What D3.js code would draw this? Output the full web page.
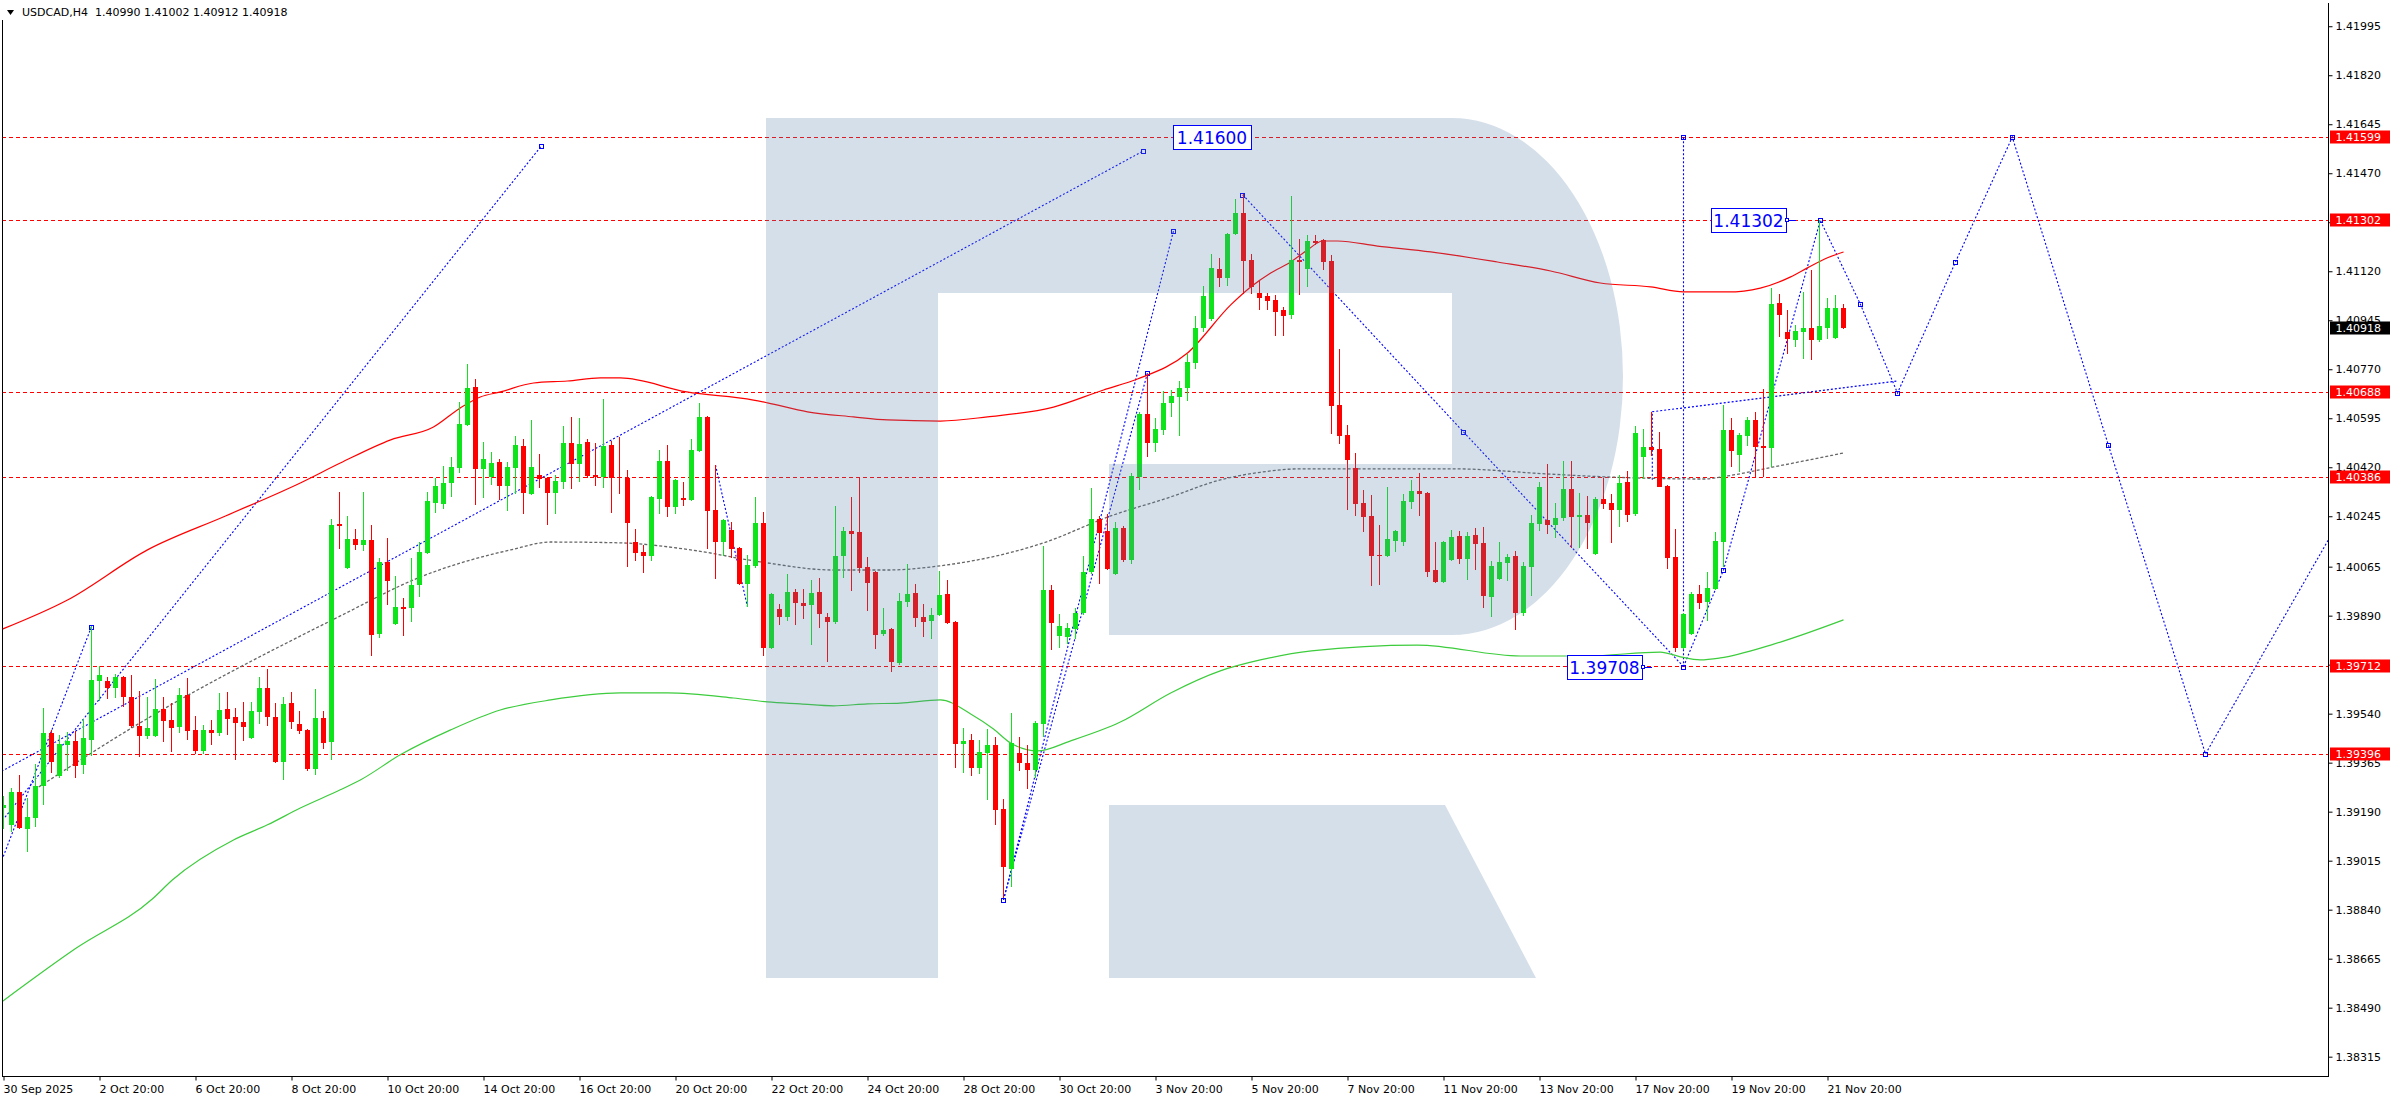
<!DOCTYPE html>
<html><head><meta charset="utf-8">
<script src="https://cdn.jsdelivr.net/npm/d3@7"></script>
<style>html,body{margin:0;padding:0;background:#fff;overflow:hidden}</style>
</head><body>
<svg id="c" width="2390" height="1100"></svg>
<script>
// ---------------- DATA ----------------
const symbolName = "USDCAD,H4";
const lastBarOHLC = ["1.40990", "1.41002", "1.40912", "1.40918"];
// H4 candles [open, high, low, close]
const candles = [
[1.39203,1.39246,1.39128,1.39214],[1.39143,1.39275,1.39118,1.39260],[1.39260,1.39321,1.39128,1.39132],[1.39128,1.39239,1.39046,1.39171],
[1.39168,1.39360,1.39136,1.39282],[1.39282,1.39560,1.39214,1.39471],[1.39471,1.39482,1.39328,1.39368],[1.39318,1.39464,1.39310,1.39432],
[1.39428,1.39475,1.39336,1.39443],[1.39443,1.39479,1.39310,1.39353],[1.39357,1.39521,1.39325,1.39453],[1.39446,1.39853,1.39389,1.39660],
[1.39657,1.39710,1.39585,1.39678],[1.39657,1.39671,1.39593,1.39632],[1.39632,1.39682,1.39596,1.39671],[1.39671,1.39675,1.39564,1.39600],
[1.39600,1.39678,1.39490,1.39496],[1.39496,1.39621,1.39386,1.39460],[1.39460,1.39600,1.39450,1.39489],[1.39460,1.39664,1.39455,1.39557],
[1.39557,1.39600,1.39439,1.39514],[1.39518,1.39578,1.39403,1.39489],[1.39493,1.39632,1.39471,1.39607],[1.39607,1.39668,1.39446,1.39478],
[1.39482,1.39532,1.39396,1.39407],[1.39407,1.39500,1.39396,1.39482],[1.39482,1.39518,1.39428,1.39471],[1.39471,1.39614,1.39460,1.39553],
[1.39557,1.39618,1.39464,1.39521],[1.39528,1.39560,1.39375,1.39507],[1.39510,1.39582,1.39443,1.39493],[1.39453,1.39582,1.39450,1.39550],
[1.39546,1.39671,1.39503,1.39632],[1.39632,1.39700,1.39496,1.39528],[1.39528,1.39578,1.39364,1.39368],[1.39368,1.39600,1.39303,1.39575],
[1.39578,1.39618,1.39485,1.39510],[1.39503,1.39550,1.39468,1.39478],[1.39482,1.39485,1.39336,1.39343],[1.39343,1.39628,1.39321,1.39525],
[1.39525,1.39550,1.39414,1.39436],[1.39439,1.40235,1.39375,1.40214],[1.40218,1.40332,1.40128,1.40210],[1.40060,1.40246,1.40057,1.40164],
[1.40164,1.40200,1.40125,1.40142],[1.40142,1.40332,1.40121,1.40160],[1.40160,1.40214,1.39746,1.39821],[1.39825,1.40096,1.39810,1.40082],
[1.40082,1.40168,1.39928,1.40014],[1.39860,1.40032,1.39857,1.39921],[1.39921,1.39953,1.39818,1.39914],[1.39918,1.40096,1.39868,1.40000],
[1.40000,1.40153,1.39957,1.40117],[1.40114,1.40332,1.40110,1.40299],[1.40292,1.40382,1.40257,1.40353],[1.40289,1.40425,1.40271,1.40364],
[1.40364,1.40457,1.40314,1.40421],[1.40418,1.40653,1.40400,1.40574],[1.40571,1.40789,1.40568,1.40703],[1.40707,1.40735,1.40285,1.40414],
[1.40414,1.40510,1.40310,1.40450],[1.40386,1.40475,1.40357,1.40435],[1.40439,1.40450,1.40303,1.40353],[1.40353,1.40439,1.40264,1.40421],
[1.40418,1.40532,1.40325,1.40500],[1.40496,1.40521,1.40253,1.40328],[1.40325,1.40589,1.40322,1.40421],[1.40393,1.40468,1.40346,1.40378],
[1.40382,1.40385,1.40214,1.40328],[1.40328,1.40393,1.40253,1.40371],[1.40367,1.40567,1.40342,1.40507],[1.40507,1.40600,1.40342,1.40432],
[1.40432,1.40596,1.40367,1.40503],[1.40510,1.40521,1.40382,1.40389],[1.40393,1.40507,1.40353,1.40386],[1.40386,1.40664,1.40346,1.40496],
[1.40500,1.40514,1.40257,1.40382],[1.40386,1.40528,1.40325,1.40380],[1.40382,1.40410,1.40064,1.40221],[1.40153,1.40200,1.40085,1.40114],
[1.40117,1.40142,1.40043,1.40103],[1.40103,1.40318,1.40085,1.40314],[1.40307,1.40482,1.40253,1.40443],[1.40443,1.40500,1.40243,1.40278],
[1.40278,1.40378,1.40253,1.40375],[1.40310,1.40367,1.40282,1.40303],[1.40303,1.40521,1.40300,1.40482],[1.40478,1.40650,1.40475,1.40600],
[1.40600,1.40603,1.40128,1.40264],[1.40268,1.40428,1.40021,1.40153],[1.40153,1.40235,1.40103,1.40232],[1.40196,1.40225,1.40096,1.40128],
[1.40132,1.40135,1.40000,1.40003],[1.40003,1.40107,1.39921,1.40071],[1.40068,1.40314,1.40060,1.40221],[1.40221,1.40260,1.39746,1.39775],
[1.39775,1.39970,1.39772,1.39968],[1.39914,1.39932,1.39857,1.39885],[1.39885,1.40039,1.39871,1.39975],[1.39975,1.39986,1.39857,1.39935],
[1.39935,1.39986,1.39878,1.39925],[1.39928,1.40018,1.39785,1.39971],[1.39975,1.40025,1.39846,1.39896],[1.39885,1.39900,1.39725,1.39868],
[1.39868,1.40282,1.39860,1.40103],[1.40103,1.40207,1.40025,1.40192],[1.40192,1.40314,1.39978,1.40182],[1.40189,1.40382,1.40043,1.40060],
[1.40064,1.40100,1.39907,1.40007],[1.40046,1.40050,1.39771,1.39821],[1.39825,1.39918,1.39818,1.39839],[1.39843,1.39846,1.39689,1.39725],
[1.39721,1.39971,1.39714,1.39943],[1.39939,1.40075,1.39921,1.39968],[1.39971,1.40003,1.39850,1.39882],[1.39885,1.39932,1.39814,1.39868],
[1.39871,1.39918,1.39807,1.39893],[1.39893,1.40050,1.39889,1.39964],[1.39968,1.40018,1.39860,1.39864],[1.39868,1.39871,1.39346,1.39432],
[1.39432,1.39489,1.39328,1.39443],[1.39446,1.39468,1.39318,1.39346],[1.39346,1.39446,1.39325,1.39403],[1.39400,1.39485,1.39232,1.39428],
[1.39428,1.39455,1.39141,1.39196],[1.39200,1.39236,1.38880,1.38993],[1.38986,1.39543,1.38921,1.39436],[1.39400,1.39455,1.39336,1.39364],
[1.39364,1.39428,1.39271,1.39339],[1.39339,1.39514,1.39310,1.39507],[1.39503,1.40139,1.39457,1.39980],[1.39980,1.39998,1.39768,1.39864],
[1.39818,1.39896,1.39775,1.39853],[1.39814,1.39864,1.39789,1.39846],[1.39843,1.39918,1.39807,1.39900],[1.39900,1.40103,1.39893,1.40046],
[1.40046,1.40346,1.40039,1.40235],[1.40235,1.40246,1.40003,1.40184],[1.40192,1.40253,1.40053,1.40057],[1.40039,1.40225,1.40036,1.40203],
[1.40203,1.40210,1.40080,1.40089],[1.40089,1.40398,1.40075,1.40389],[1.40386,1.40619,1.40339,1.40609],[1.40609,1.40746,1.40457,1.40505],
[1.40505,1.40596,1.40475,1.40557],[1.40553,1.40693,1.40535,1.40650],[1.40650,1.40696,1.40600,1.40675],[1.40671,1.40728,1.40532,1.40703],
[1.40703,1.40825,1.40657,1.40796],[1.40793,1.40960,1.40771,1.40919],[1.40916,1.41068,1.40903,1.41033],[1.40950,1.41182,1.40943,1.41130],
[1.41127,1.41168,1.41064,1.41096],[1.41096,1.41257,1.41068,1.41254],[1.41254,1.41378,1.41250,1.41328],[1.41328,1.41396,1.41039,1.41158],
[1.41161,1.41182,1.41039,1.41065],[1.41043,1.41085,1.40983,1.41026],[1.41032,1.41043,1.40983,1.41015],[1.41018,1.41036,1.40890,1.40976],
[1.40982,1.40993,1.40890,1.40961],[1.40965,1.41389,1.40951,1.41160],[1.41161,1.41235,1.41036,1.41154],[1.41129,1.41250,1.41065,1.41228],
[1.41228,1.41250,1.41214,1.41221],[1.41232,1.41235,1.41126,1.41154],[1.41158,1.41178,1.40540,1.40640],[1.40643,1.40843,1.40504,1.40533],
[1.40535,1.40571,1.40269,1.40447],[1.40419,1.40471,1.40247,1.40290],[1.40293,1.40340,1.40187,1.40244],[1.40247,1.40322,1.39997,1.40104],
[1.40108,1.40212,1.40000,1.40103],[1.40104,1.40351,1.40100,1.40162],[1.40158,1.40196,1.40119,1.40194],[1.40154,1.40326,1.40140,1.40301],
[1.40297,1.40376,1.40272,1.40336],[1.40336,1.40401,1.40247,1.40326],[1.40329,1.40333,1.40029,1.40047],[1.40054,1.40154,1.40007,1.40011],
[1.40011,1.40157,1.40005,1.40154],[1.40090,1.40197,1.40086,1.40172],[1.40176,1.40194,1.40076,1.40094],[1.40094,1.40187,1.40019,1.40176],
[1.40179,1.40204,1.40054,1.40147],[1.40151,1.40208,1.39919,1.39962],[1.39958,1.40086,1.39886,1.40069],[1.40022,1.40154,1.40019,1.40083],
[1.40079,1.40111,1.40015,1.40101],[1.40104,1.40122,1.39840,1.39901],[1.39901,1.40083,1.39890,1.40069],[1.40065,1.40251,1.39962,1.40222],
[1.40219,1.40369,1.40194,1.40351],[1.40233,1.40433,1.40183,1.40212],[1.40215,1.40293,1.40169,1.40240],[1.40240,1.40443,1.40229,1.40343],
[1.40343,1.40443,1.40133,1.40244],[1.40244,1.40328,1.40133,1.40250],[1.40250,1.40318,1.40129,1.40222],[1.40112,1.40314,1.40108,1.40307],
[1.40307,1.40382,1.40272,1.40290],[1.40293,1.40325,1.40151,1.40269],[1.40269,1.40393,1.40208,1.40364],[1.40367,1.40407,1.40226,1.40251],
[1.40254,1.40567,1.40247,1.40542],[1.40457,1.40557,1.40379,1.40493],[1.40493,1.40618,1.40461,1.40483],[1.40485,1.40546,1.40348,1.40351],
[1.40353,1.40357,1.40058,1.40097],[1.40100,1.40200,1.39762,1.39776],[1.39776,1.39900,1.39772,1.39896],[1.39826,1.39975,1.39822,1.39968],
[1.39968,1.40000,1.39915,1.39936],[1.39940,1.40046,1.39872,1.39989],[1.39986,1.40190,1.39983,1.40157],[1.40154,1.40643,1.40065,1.40553],
[1.40553,1.40596,1.40422,1.40479],[1.40465,1.40543,1.40404,1.40535],[1.40533,1.40600,1.40497,1.40589],[1.40589,1.40618,1.40386,1.40494],
[1.40496,1.40700,1.40386,1.40487],[1.40487,1.41059,1.40422,1.41003],[1.41006,1.41039,1.40885,1.40965],[1.40903,1.40982,1.40825,1.40879],
[1.40875,1.40929,1.40851,1.40907],[1.40903,1.41046,1.40807,1.40918],[1.40918,1.41125,1.40803,1.40875],[1.40875,1.41302,1.40869,1.40925],
[1.40918,1.41025,1.40878,1.40989],[1.40882,1.41036,1.40878,1.40989],[1.40990,1.41002,1.40912,1.40918]
];
const timeLabels = ["30 Sep 2025","2 Oct 20:00","6 Oct 20:00","8 Oct 20:00","10 Oct 20:00","14 Oct 20:00","16 Oct 20:00","20 Oct 20:00","22 Oct 20:00","24 Oct 20:00","28 Oct 20:00","30 Oct 20:00","3 Nov 20:00","5 Nov 20:00","7 Nov 20:00","11 Nov 20:00","13 Nov 20:00","17 Nov 20:00","19 Nov 20:00","21 Nov 20:00"];
const timeLabelBars = [0,12,24,36,48,60,72,84,96,108,120,132,144,156,168,180,192,204,216,228];
const priceTicks = [1.41995,1.41820,1.41645,1.41470,1.41295,1.41120,1.40945,1.40770,1.40595,1.40420,1.40245,1.40065,1.39890,1.39715,1.39540,1.39365,1.39190,1.39015,1.38840,1.38665,1.38490,1.38315];
const levels = [1.41599,1.41302,1.40688,1.40386,1.39712,1.39396];
const lastPrice = 1.40918;
// moving averages [bar index, price]
const maRed = [[-0.4,1.39839],[8,1.39946],[18,1.40125],[27.75,1.40246],[37.1,1.40364],[42.1,1.40435],[48.4,1.40518],[53.75,1.40564],[57.1,1.40632],[59.6,1.40671],[62.1,1.40689],[66.25,1.40721],[70.5,1.40728],[74.6,1.40739],[77.1,1.40739],[85.4,1.40689],[93.75,1.40660],[95.5,1.40650],[100.5,1.40618],[106.25,1.40600],[110.5,1.40589],[117.1,1.40585],[123,1.40600],[131.25,1.40635],[137.5,1.40696],[141.75,1.40735],[148,1.40828],[153.4,1.41000],[155.9,1.41064],[158.4,1.41114],[160.9,1.41153],[163,1.41196],[164.9,1.41228],[166.75,1.41228],[171.75,1.41210],[178.4,1.41189],[186.75,1.41153],[193.4,1.41121],[199.6,1.41078],[205.9,1.41064],[210,1.41046],[215.5,1.41046],[219.6,1.41060],[223.4,1.41100],[225.5,1.41132],[228,1.41168],[230,1.41189]];
const maGreen = [[-0.4,1.38507],[9.1,1.38703],[18.6,1.38878],[21.1,1.38946],[28.75,1.39089],[33,1.39143],[37.1,1.39203],[42.1,1.39268],[44.6,1.39303],[49.6,1.39393],[55.9,1.39482],[62.1,1.39553],[68.4,1.39589],[77.1,1.39614],[83,1.39614],[91.25,1.39596],[95.5,1.39582],[99.6,1.39575],[103.75,1.39568],[108,1.39575],[112.1,1.39578],[117.1,1.39589],[120.9,1.39539],[123.75,1.39485],[125.9,1.39435],[129.25,1.39407],[133.4,1.39443],[139.6,1.39510],[145.9,1.39614],[152.1,1.39693],[157.1,1.39732],[163.5,1.39764],[176.75,1.39785],[189.6,1.39746],[198,1.39746],[207.1,1.39760],[209.6,1.39743],[212.1,1.39732],[214.6,1.39739],[220.9,1.39785],[230,1.39875]];
const maGray = [[4.4,1.39278],[16.25,1.39493],[42.1,1.39889],[52.1,1.40028],[63.4,1.40125],[68.4,1.40153],[77.1,1.40150],[85.9,1.40125],[94.6,1.40082],[103.75,1.40053],[110.5,1.40053],[117.1,1.40068],[130,1.40150],[138.4,1.40246],[145.9,1.40314],[152.1,1.40375],[157.1,1.40402],[161.75,1.40414],[181.75,1.40414],[193,1.40396],[200,1.40386],[212.5,1.40378],[215.5,1.40389],[221.25,1.40421],[230,1.40471]];
// blue dotted drawings [bar index, price]
const drawings = [
  [[-2,1.38883],[11,1.39851]],
  [[-2,1.39092],[67.25,1.41568]],
  [[-2,1.39307],[142.5,1.41550]],
  [[89,1.40428],[93,1.39921]],
  [[125,1.38875],[146.25,1.41264]],
  [[125,1.38875],[143,1.40757]],
  [[154.9,1.41393],[182.5,1.40546],[210,1.39708]],
  [[210,1.41599],[210,1.39708]],
  [[206.1,1.40375],[206.1,1.40618],[236.75,1.40728]],
  [[210,1.39708],[215,1.40053],[227.1,1.41302],[232.1,1.41003],[236.75,1.40685],[244,1.41153],[251.1,1.41599],[263.1,1.40500],[275.25,1.39396],[292.1,1.40235]]
];
const drawingMarkers = [[11,1.39851],[67.25,1.41568],[142.5,1.41550],[125,1.38875],[146.25,1.41264],[143,1.40757],[154.9,1.41393],[182.5,1.40546],[210,1.39708],[210,1.41599],[215,1.40053],[227.1,1.41302],[232.1,1.41003],[236.75,1.40685],[244,1.41153],[251.1,1.41599],[263.1,1.40500],[275.25,1.39396]];
const priceNotes = [
  {text:"1.41600", price:1.41600, from:146.25, to:156.0, tie:false},
  {text:"1.41302", price:1.41302, from:213.5, to:222.9, tie:true},
  {text:"1.39708", price:1.39708, from:195.5, to:204.9, tie:true}
];

// ---------------- LAYOUT ----------------
const W = 2390, H = 1100;
const P = {left:2, top:3, right:2328, bottom:1076};
const x = d3.scaleLinear().domain([0, 230]).range([3, 1843]);
const y = d3.scaleLinear().domain([1.38246, 1.42078]).range([P.bottom, P.top]);
const UP = "#0de41a", DOWN = "#ff0000", BLUE = "#0000ff";
const FONT = "DejaVu Sans";

const svg = d3.select("#c");
svg.append("rect").attr("width", W).attr("height", H).attr("fill", "#fff");
svg.append("defs").append("clipPath").attr("id", "clip").append("rect")
  .attr("x", P.left).attr("y", P.top).attr("width", P.right - P.left).attr("height", P.bottom - P.top);
const g = svg.append("g").attr("clip-path", "url(#clip)");

// horizontal red levels
g.selectAll("line.lvl").data(levels).join("line").attr("class", "lvl")
  .attr("x1", P.left).attr("x2", P.right)
  .attr("y1", d => Math.round(y(d)) + 0.5).attr("y2", d => Math.round(y(d)) + 0.5)
  .attr("stroke", "#ff0000").attr("stroke-width", 1).attr("stroke-dasharray", "4,3");

// blue dotted drawings
const ln = d3.line().x(d => x(d[0]) + 0.5).y(d => y(d[1]));
g.selectAll("path.drw").data(drawings).join("path").attr("class", "drw")
  .attr("d", ln).attr("fill", "none").attr("stroke", BLUE).attr("stroke-width", 1.1).attr("stroke-dasharray", "2,2");
g.selectAll("rect.mk").data(drawingMarkers).join("rect").attr("class", "mk")
  .attr("x", d => Math.round(x(d[0])) - 2 + 0.5).attr("y", d => Math.round(y(d[1])) - 2 + 0.5)
  .attr("width", 4).attr("height", 4).attr("fill", "none").attr("stroke", BLUE).attr("stroke-width", 1);

// moving averages
const ma = d3.line().curve(d3.curveMonotoneX).x(d => x(d[0]) + 0.5).y(d => y(d[1]));
g.append("path").datum(maGreen).attr("d", ma).attr("fill", "none").attr("stroke", "#3ccc3c").attr("stroke-width", 1.2);
g.append("path").datum(maGray).attr("d", ma).attr("fill", "none").attr("stroke", "#666").attr("stroke-width", 1.3).attr("stroke-dasharray", "3,2");
g.append("path").datum(maRed).attr("d", ma).attr("fill", "none").attr("stroke", "#ff0000").attr("stroke-width", 1.2);

// candles
const cg = g.append("g");
candles.forEach((c, i) => {
  const [o, h, l, cl] = c;
  const col = cl >= o ? UP : DOWN;
  const cx = Math.round(x(i));
  const yh = Math.round(y(h)), yl = Math.round(y(l));
  cg.append("rect").attr("x", cx).attr("y", yh).attr("width", 1).attr("height", Math.max(1, yl - yh)).attr("fill", col);
  const yo = Math.round(y(o)), yc = Math.round(y(cl));
  cg.append("rect").attr("x", cx - 2).attr("y", Math.min(yo, yc)).attr("width", 5)
    .attr("height", Math.max(1, Math.abs(yo - yc))).attr("fill", col);
});

// watermark logo (overlay)
g.append("path")
  .attr("d", "M766,118H1452A171,258.5 0 0 1 1452,635H1109V464H1452V293H938V978H766Z M1109,805H1445L1536,978H1109Z")
  .attr("fill", "rgb(87,127,167)").attr("fill-opacity", 0.25);

// price notes
priceNotes.forEach(n => {
  const x0 = Math.round(x(n.from)), x1 = Math.round(x(n.to)), yc = Math.round(y(n.price));
  g.append("rect").attr("x", x0 + 0.5).attr("y", yc - 12 + 0.5).attr("width", x1 - x0).attr("height", 24)
    .attr("fill", "#fff").attr("stroke", BLUE).attr("stroke-width", 1);
  g.append("text").attr("x", (x0 + x1) / 2).attr("y", yc + 6.5).attr("text-anchor", "middle")
    .attr("font-family", FONT).attr("font-size", 17).attr("fill", BLUE).text(n.text);
  if (n.tie) {
    g.append("line").attr("x1", x1).attr("x2", x1 + 10).attr("y1", yc + 0.5).attr("y2", yc + 0.5)
      .attr("stroke", BLUE).attr("stroke-width", 1);
    g.append("rect").attr("x", x1 - 0.5).attr("y", yc - 1.5).attr("width", 3).attr("height", 3)
      .attr("fill", "#fff").attr("stroke", BLUE).attr("stroke-width", 1);
  }
});

// right axis
const axR = svg.append("g").attr("transform", `translate(${P.right + 0.5},0)`)
  .call(d3.axisRight(y).tickValues(priceTicks).tickFormat(d => d.toFixed(5)).tickSize(4).tickPadding(3));
axR.select(".domain").remove();
axR.attr("font-family", FONT).attr("font-size", 11);
axR.selectAll("line").attr("stroke", "#000");
axR.selectAll("text").attr("fill", "#000");

// level labels on axis
const tagData = levels.map(v => ({v, bg: "#ff0000"})).concat([{v: lastPrice, bg: "#000"}]);
const tags = svg.append("g");
tagData.forEach(t => {
  const yc = Math.round(y(t.v));
  tags.append("rect").attr("x", P.right + 2).attr("y", yc - 6.5).attr("width", W - P.right - 2).attr("height", 13).attr("fill", t.bg);
  tags.append("text").attr("x", P.right + 7.5).attr("y", yc + 4).attr("font-family", FONT).attr("font-size", 11)
    .attr("fill", "#fff").text(t.v.toFixed(5));
});

// bottom axis
const axB = svg.append("g").attr("transform", `translate(0,${P.bottom + 0.5})`)
  .call(d3.axisBottom(x).tickValues(timeLabelBars).tickFormat((d, k) => timeLabels[k]).tickSize(4).tickPadding(5));
axB.select(".domain").remove();
axB.attr("font-family", FONT).attr("font-size", 11);
axB.selectAll(".tick line").attr("stroke", "#000").attr("transform", "translate(0.5,0)");
axB.selectAll("text").attr("text-anchor", "start").attr("x", 0).attr("fill", "#000");

// frame
const fr = svg.append("g").attr("stroke", "#000").attr("stroke-width", 1);
fr.append("line").attr("x1", P.left + 0.5).attr("x2", P.left + 0.5).attr("y1", 20).attr("y2", P.bottom + 0.5);
fr.append("line").attr("x1", P.right + 0.5).attr("x2", P.right + 0.5).attr("y1", P.top).attr("y2", P.bottom + 0.5);
fr.append("line").attr("x1", P.left).attr("x2", P.right + 1).attr("y1", P.bottom + 0.5).attr("y2", P.bottom + 0.5);

// header
svg.append("path").attr("d", d3.line()([[7, 10], [14, 10], [10.5, 15]]) + "Z").attr("fill", "#000");
svg.append("text").attr("x", 22).attr("y", 16).attr("font-family", FONT).attr("font-size", 11).attr("fill", "#000")
  .attr("xml:space", "preserve").text(symbolName + "  " + lastBarOHLC.join(" "));
</script>
</body></html>
